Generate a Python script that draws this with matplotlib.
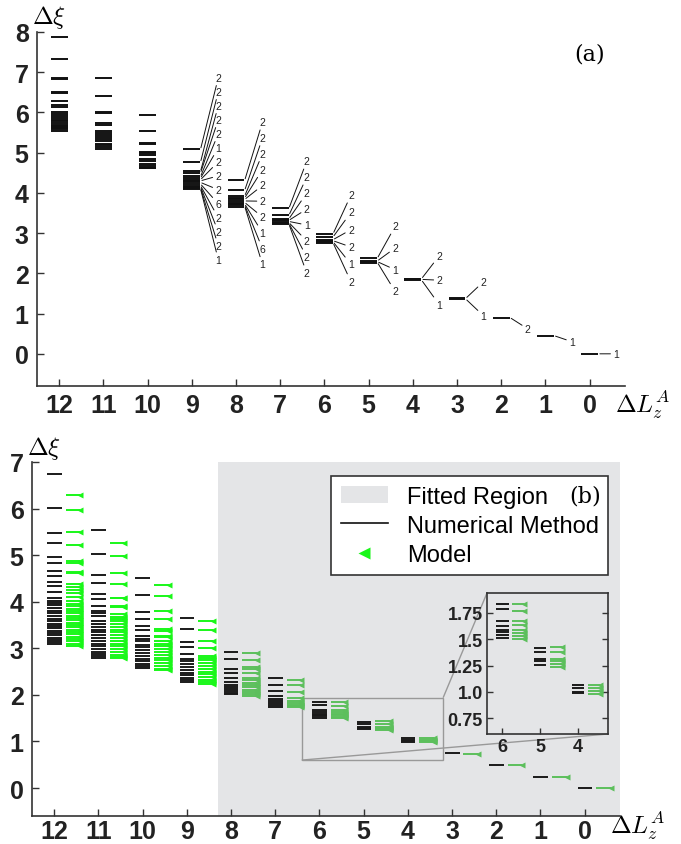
import numpy as np
import matplotlib
matplotlib.use('Agg')
import matplotlib.pyplot as plt
from matplotlib.patches import Patch
from matplotlib.lines import Line2D
from mpl_toolkits.axes_grid1.inset_locator import mark_inset

plt.rcParams['font.family'] = ['Liberation Sans', 'DejaVu Sans']
plt.rcParams['mathtext.fontset'] = 'cm'

##### panel (a) : entanglement spectrum levels per Delta L_z^A
dL_top = [12, 11, 10, 9, 8, 7, 6, 5, 4, 3, 2, 1, 0]
top12 = [7.88, 7.32, 6.86, 6.83, 6.52, 6.48, 6.28, 6.18, 6.13, 6.01, 5.95, 5.91,
         5.86, 5.82, 5.78, 5.74, 5.70, 5.67, 5.64, 5.61, 5.58, 5.55]
top11 = [6.86, 6.40, 6.01, 5.99, 5.74, 5.70, 5.55, 5.50, 5.45, 5.40, 5.33, 5.28,
         5.22, 5.18, 5.13, 5.10]
top10 = [5.94, 5.54, 5.24, 5.22, 5.02, 4.98, 4.95, 4.85, 4.80, 4.72, 4.68, 4.63, 4.61]
top9 = [5.09, 4.77, 4.54, 4.50, 4.41, 4.37, 4.33, 4.30, 4.26, 4.22, 4.18, 4.15, 4.12, 4.10]
top8 = [4.32, 4.07, 3.93, 3.88, 3.84, 3.80, 3.76, 3.72, 3.69, 3.66]
top7 = [3.62, 3.45, 3.36, 3.32, 3.29, 3.26, 3.24, 3.22]
top6 = [2.99, 2.91, 2.84, 2.81, 2.78, 2.75]
top5 = [2.38, 2.31, 2.29, 2.27]
top4 = [1.87, 1.85, 1.83]
top3 = [1.38, 1.36]
top2 = [0.90]
top1 = [0.45]
top0 = [0.0]
top_levels = [top12, top11, top10, top9, top8, top7, top6, top5, top4, top3, top2, top1, top0]

# degeneracy labels (top to bottom)
deg9 = [2, 2, 2, 2, 2, 1, 2, 2, 2, 6, 2, 2, 2, 1]
deg8 = [2, 2, 2, 2, 2, 2, 2, 1, 6, 1]
deg7 = [2, 2, 2, 2, 1, 2, 2, 2]
deg6 = [2, 2, 2, 2, 1, 2]
deg5 = [2, 2, 1, 2]
deg4 = [2, 2, 1]
deg3 = [2, 1]
deg2 = [2]
deg1 = [1]
deg0 = [1]
deg_cols = [9, 8, 7, 6, 5, 4, 3, 2, 1, 0]
deg_lists = [deg9, deg8, deg7, deg6, deg5, deg4, deg3, deg2, deg1, deg0]

##### panel (b) : numerical method vs model
dL_bot = [12, 11, 10, 9, 8, 7, 6, 5, 4, 3, 2, 1, 0]
num12 = [6.75, 6.02, 5.47, 5.27, 4.97, 4.83, 4.67, 4.55, 4.43, 4.34, 4.20, 4.09, 4.02,
         3.97, 3.92, 3.86, 3.80, 3.75, 3.70, 3.64, 3.58, 3.53, 3.48, 3.43, 3.38, 3.33,
         3.28, 3.23, 3.18, 3.13, 3.10]
mod12 = [6.30, 5.97, 5.50, 5.22, 4.87, 4.84, 4.64, 4.61, 4.38, 4.32, 4.25, 4.18, 4.10,
         4.02, 3.95, 3.90, 3.85, 3.80, 3.75, 3.70, 3.65, 3.60, 3.55, 3.50, 3.45, 3.40,
         3.35, 3.30, 3.25, 3.20, 3.15, 3.10, 3.05]
num11 = [5.54, 5.02, 4.58, 4.40, 4.16, 4.06, 3.91, 3.80, 3.75, 3.70, 3.58, 3.52, 3.46,
         3.40, 3.34, 3.28, 3.22, 3.16, 3.10, 3.04, 2.98, 2.92, 2.87, 2.83, 2.80]
mod11 = [5.26, 4.99, 4.61, 4.38, 4.09, 4.07, 3.90, 3.88, 3.73, 3.68, 3.63, 3.58, 3.52,
         3.46, 3.40, 3.34, 3.28, 3.22, 3.16, 3.10, 3.04, 2.98, 2.92, 2.86, 2.82, 2.80]
num10 = [4.51, 4.14, 3.79, 3.64, 3.48, 3.39, 3.27, 3.21, 3.15, 3.08, 3.02, 2.96, 2.90,
         2.84, 2.78, 2.72, 2.66, 2.61, 2.57]
mod10 = [4.36, 4.12, 3.80, 3.64, 3.41, 3.38, 3.27, 3.25, 3.15, 3.10, 3.04, 2.98, 2.92,
         2.86, 2.80, 2.74, 2.68, 2.62, 2.56, 2.53]
num9 = [3.66, 3.41, 3.14, 3.02, 2.88, 2.77, 2.72, 2.66, 2.60, 2.54, 2.48, 2.42, 2.36, 2.31, 2.28]
mod9 = [3.58, 3.39, 3.16, 3.01, 2.84, 2.80, 2.74, 2.68, 2.62, 2.56, 2.50, 2.44, 2.38, 2.32,
        2.27, 2.23]
num8 = [2.93, 2.78, 2.56, 2.46, 2.37, 2.27, 2.22, 2.17, 2.12, 2.08, 2.04, 2.02]
mod8 = [2.89, 2.75, 2.59, 2.56, 2.46, 2.36, 2.31, 2.26, 2.21, 2.16, 2.11, 2.06, 2.02, 1.98]
num7 = [2.36, 2.22, 2.08, 1.98, 1.91, 1.86, 1.82, 1.78, 1.75]
mod7 = [2.32, 2.21, 2.07, 1.94, 1.87, 1.83, 1.79, 1.76, 1.73]
num6 = [1.84, 1.79, 1.67, 1.63, 1.59, 1.57, 1.54, 1.51]
mod6 = [1.84, 1.77, 1.67, 1.64, 1.59, 1.56, 1.53, 1.50]
num5 = [1.42, 1.38, 1.31, 1.29, 1.26]
mod5 = [1.43, 1.38, 1.31, 1.29, 1.27, 1.24]
num4 = [1.07, 1.04, 1.00, 0.99]
mod4 = [1.07, 1.04, 1.01, 0.98]
num3 = [0.75]
mod3 = [0.74]
num2 = [0.49]
mod2 = [0.49]
num1 = [0.24]
mod1 = [0.24]
num0 = [0.0]
mod0 = [0.0]
num_levels = [num12, num11, num10, num9, num8, num7, num6, num5, num4, num3, num2, num1, num0]
mod_levels = [mod12, mod11, mod10, mod9, mod8, mod7, mod6, mod5, mod4, mod3, mod2, mod1, mod0]

fit_edge = 8.3   # fitted region ΔL <= 8

# layout of the degeneracy fans: (centre, step) of label positions
fan = {9: (4.60, 0.348), 8: (3.99, 0.393), 7: (3.40, 0.396), 6: (2.87, 0.43),
       5: (2.36, 0.54), 4: (1.83, 0.61), 3: (1.37, 0.85), 2: (0.62, 0.0),
       1: (0.30, 0.0), 0: (0.0, 0.0)}

gray = '#e4e5e7'
bright_green = '#19f719'
dull_green = '#5cbf5c'
tick_font = dict(fontsize=18, fontweight='bold')


def style_axis(ax, yticks, xticks, xpad):
    for s in ['top', 'right']:
        ax.spines[s].set_visible(False)
    for s in ['left', 'bottom']:
        ax.spines[s].set_linewidth(1.2)
        ax.spines[s].set_color('#333333')
    ax.set_xticks(xticks)
    ax.set_yticks(yticks)
    ax.set_xticklabels([str(v) for v in xticks], **tick_font)
    ax.set_yticklabels([str(v) for v in yticks], **tick_font)
    ax.tick_params(direction='in', length=5, width=1, colors='#333333', pad=6)
    ax.tick_params(axis='x', pad=xpad)
    ax.tick_params(labelcolor='#222222')


fig = plt.figure(figsize=(6.81, 8.45), dpi=100)

#### top panel
ax1 = fig.add_axes([37 / 681, 1 - 387 / 845, 588 / 681, 354 / 845])
for x, lev in zip(dL_top, top_levels):
    ax1.hlines(lev, x - 0.19, x + 0.19, color='#111111', lw=1.4)

for x, deg in zip(deg_cols, deg_lists):
    lev = sorted(top_levels[dL_top.index(x)], reverse=True)
    mid, step = fan[x]
    n = len(deg)
    for k, d in enumerate(deg):
        ly = mid + step * ((n - 1) / 2 - k)
        ax1.annotate(str(d), xy=(x - 0.2, lev[k]), xytext=(x - 0.6, ly),
                     ha='center', va='center', fontsize=7.5, color='#222222',
                     arrowprops=dict(arrowstyle='-', lw=0.7, color='#111111',
                                     shrinkA=0, shrinkB=1.0))

ax1.set_xlim(12.5, -0.8)
ax1.set_ylim(-0.8, 8)
style_axis(ax1, list(range(0, 9)), list(range(12, -1, -1)), 5)
ax1.text(0.02, 1.045, r'$\Delta\xi$', transform=ax1.transAxes, fontsize=18,
         ha='center', va='center')
ax1.text(1.03, -0.05, r'$\Delta L_z^A$', transform=ax1.transAxes, fontsize=18,
         ha='center', va='center')
ax1.text(0.94, 0.938, '(a)', transform=ax1.transAxes, fontsize=16,
         family='DejaVu Serif', ha='center', va='center')

#### bottom panel
ax2 = fig.add_axes([32 / 681, 1 - 817 / 845, 588 / 681, 354 / 845])
ax2.axvspan(-0.8, fit_edge, color=gray, lw=0, zorder=0)


def draw_bottom(ax, cols, ms):
    for x, nl, ml in zip(dL_bot, num_levels, mod_levels):
        if x not in cols:
            continue
        g = bright_green if x > fit_edge else dull_green
        ax.hlines(nl, x - 0.17, x + 0.16, color='#1a1a1a', lw=1.4, zorder=2)
        ax.hlines(ml, x - 0.59, x - 0.26, color=g, lw=1.4, zorder=2)
        ax.plot([x - 0.59] * len(ml), ml, ls='none', marker='<', ms=ms,
                color=g, mec='none', zorder=3)


draw_bottom(ax2, dL_bot, 4.5)
ax2.set_xlim(12.5, -0.8)
ax2.set_ylim(-0.6, 7)
style_axis(ax2, list(range(0, 8)), list(range(12, -1, -1)), 2)
ax2.text(0.02, 1.04, r'$\Delta\xi$', transform=ax2.transAxes, fontsize=18,
         ha='center', va='center')
ax2.text(1.03, -0.025, r'$\Delta L_z^A$', transform=ax2.transAxes, fontsize=18,
         ha='center', va='center')

handles = [Patch(facecolor=gray, edgecolor='none'),
           Line2D([], [], color='#111111', lw=1.2),
           Line2D([], [], ls='none', marker='<', ms=9, color=bright_green, mec='none')]
leg = ax2.legend(handles, ['Fitted Region', 'Numerical Method', 'Model'],
                 loc='upper right', bbox_to_anchor=(0.98, 0.96), fontsize=17,
                 frameon=True, fancybox=False, framealpha=1, edgecolor='#333333',
                 labelspacing=0.3, handlelength=2.0, handletextpad=0.8,
                 borderpad=0.4, borderaxespad=0)
leg.get_frame().set_linewidth(1.2)
ax2.text(0.94, 0.904, '(b)', transform=ax2.transAxes, fontsize=16,
         family='DejaVu Serif', ha='center', va='center', zorder=10)

#### inset zoom of ΔL = 6, 5, 4
axins = fig.add_axes([487 / 681, 1 - 735 / 845, 121 / 681, 141 / 845])
axins.set_facecolor(gray)
draw_bottom(axins, [6, 5, 4], 4)
axins.set_xlim(6.4, 3.2)
axins.set_ylim(0.6, 1.94)
axins.set_xticks([6, 5, 4])
axins.set_xticklabels(['6', '5', '4'], fontsize=13, fontweight='bold')
axins.set_yticks([0.75, 1.0, 1.25, 1.5, 1.75])
axins.set_yticklabels(['0.75', '1.0', '1.25', '1.5', '1.75'], fontsize=13, fontweight='bold')
axins.tick_params(direction='in', length=4, width=1, right=True, pad=3,
                  colors='#333333', labelcolor='#222222')
for s in axins.spines.values():
    s.set_linewidth(1.2)
    s.set_color('#333333')

mark_inset(ax2, axins, loc1=2, loc2=4, fc='none', ec='#999999', lw=1.0)

fig.savefig('out.png', dpi=100)
